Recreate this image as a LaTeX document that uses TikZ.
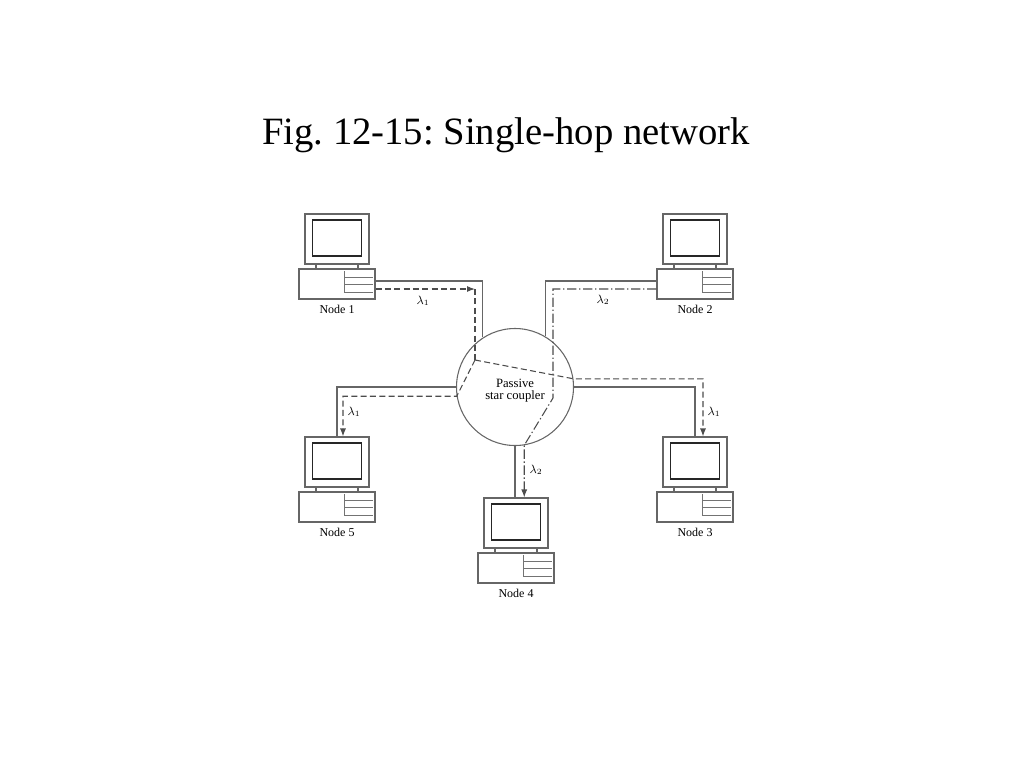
\documentclass[tikz,border=0pt]{standalone}
\usepackage{fontspec}
\setmainfont{Liberation Serif}
\usetikzlibrary{arrows.meta}
\frenchspacing
\tikzset{
 wire/.style={black!60, line width=0.8pt},
 lamone/.style={black!70, line width=0.8pt, dash pattern=on 4.5pt off 2.5pt},
 lamtwo/.style={black!70, line width=0.8pt, dash pattern=on 7pt off 2pt on 1pt off 2pt},
 arr/.style={-{Latex[length=6pt,width=4.5pt]}},
 lam/.style={font=\fontsize{9}{10}\selectfont, inner sep=0pt},
 mon/.style={draw=black!60, line width=0.8pt, minimum width=48pt, minimum height=37.5pt, inner sep=0pt},
 scr/.style={draw=black!85, line width=1.1pt, minimum width=36.75pt, minimum height=27pt, inner sep=0pt},
 cab/.style={draw=black!60, line width=0.8pt, minimum width=57pt, minimum height=22.5pt, inner sep=0pt},
 nodetag/.style={font=\fontsize{9}{10}\selectfont, inner sep=0pt},
 pc/.pic={
  \node[mon] (-mon) at (0,25) {};
  \node[scr] (-scr) at (0,24) {};
  \draw[black!60, line width=0.8pt] (-21,50) -- (-21,55) (21,50) -- (21,55);
  \node[cab] (-base) at (0,70) {};
  \draw[black!55, line width=0.6pt] (7,57) -- (7,78) -- (36,78) (7,63) -- (36,63) (7,70) -- (36,70);
  \node[nodetag] (-tag) at (0,95) {#1};
 }
}
\begin{document}
\begin{tikzpicture}[x=0.75pt, y=-0.75pt]
\useasboundingbox (0,0) rectangle (1024,768);
\node[font=\fontsize{29}{34}\selectfont, anchor=base, inner sep=0pt] (title) at (506,144) {Fig. 12-15: Single-hop network};
\pic (n1) at (337,214) {pc=Node 1};
\pic (n2) at (695,214) {pc=Node 2};
\pic (n3) at (695,437) {pc=Node 3};
\pic (n4) at (516,498) {pc=Node 4};
\pic (n5) at (337,437) {pc=Node 5};
\node[draw=black!60, line width=0.8pt, circle, minimum size=87.75pt, inner sep=0pt, align=center, font=\fontsize{9.5}{9.5}\selectfont] (psc) at (515,387) {\rule{0pt}{12pt}Passive\\star coupler};
\coordinate (b1) at (475,289);
\coordinate (h1) at (475,360);
\coordinate (b2) at (553,289);
\coordinate (h2) at (553,398);
\draw[wire] ([yshift=2.25pt]n1-base.east) -| (psc.123);
\draw[wire] ([yshift=2.25pt]n2-base.west) -| (psc.59);
\draw[wire] (psc.west) -| (n5-mon.north);
\draw[wire] (psc.east) -| (n3-mon.north);
\draw[wire] (psc.south) -- (psc.south |- n4-mon.north);
\draw[lamone, arr] ([yshift=-3.75pt]n1-base.east) -- (b1);
\draw[lamone] (b1) -- (h1);
\draw[lamone, arr] (h1) -- (psc.8) -| ([xshift=6pt]n3-mon.north);
\draw[lamone, arr] (h1) -- (psc.189) -| ([xshift=4.5pt]n5-mon.north);
\draw[lamtwo, arr] ([yshift=-3.75pt]n2-base.west) -- (b2) -- (h2) -- (psc.279) -- (psc.279 |- n4-mon.north);
\node[lam] (la) at (423,301) {$\lambda_1$};
\node[lam] (lb) at (603,300) {$\lambda_2$};
\node[lam] (lc) at (354,412) {$\lambda_1$};
\node[lam] (ld) at (714,412) {$\lambda_1$};
\node[lam] (le) at (536,470) {$\lambda_2$};
\end{tikzpicture}
\end{document}
